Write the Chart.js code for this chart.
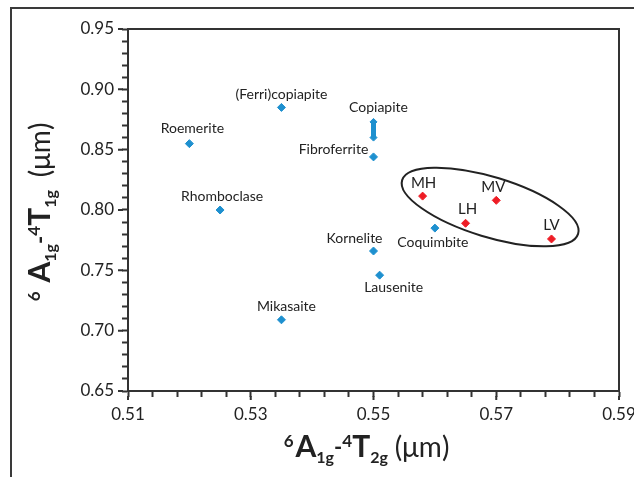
<!DOCTYPE html>
<html>
<head>
<meta charset="utf-8">
<script src="https://cdn.jsdelivr.net/npm/chart.js@4"></script>
<style>
  body { margin: 0; background: #fff; }
  #wrap { position: relative; width: 634px; height: 477px; overflow: hidden; }
  #frame { position: absolute; left: 10px; top: 7px; width: 700px; height: 600px;
           border-left: 2px solid #3a3a3a; border-top: 2px solid #3a3a3a; pointer-events: none; }
</style>
</head>
<body>
<div id="wrap">
  <canvas id="chart" width="634" height="477"></canvas>
  <div id="frame"></div>
</div>
<script>
// Reference minerals (blue diamonds)
const mineralNames = ['Roemerite', '(Ferri)copiapite', 'Rhomboclase', 'Fibroferrite', 'Kornelite', 'Lausenite', 'Coquimbite', 'Mikasaite'];
const mineralT2g = [0.520, 0.535, 0.525, 0.550, 0.550, 0.551, 0.560, 0.535];
const mineralT1g = [0.855, 0.885, 0.800, 0.844, 0.766, 0.746, 0.785, 0.709];

// Copiapite is drawn as a range
const copiapiteName = 'Copiapite';
const copiapiteT2g = 0.550;
const copiapiteT1g = [0.860, 0.873];

// Samples (red diamonds)
const sampleNames = ['MH', 'MV', 'LH', 'LV'];
const sampleT2g = [0.558, 0.570, 0.565, 0.579];
const sampleT1g = [0.8115, 0.808, 0.789, 0.776];

// axis ranges / labelled ticks
const xMin = 0.51, xMax = 0.59, xStep = 0.004, xLabelEvery = 0.02;
const yMin = 0.65, yMax = 0.95, yStep = 0.01, yLabelEvery = 0.05;

// label placement (pixel shift of the text centre from its point)
const labelShift = {
  'Roemerite': [3, -15], '(Ferri)copiapite': [0, -13], 'Rhomboclase': [2, -14],
  'Fibroferrite': [-40, -7], 'Kornelite': [-19, -13], 'Lausenite': [14, 12],
  'Coquimbite': [-2, 14], 'Mikasaite': [5, -13], 'Copiapite': [5, -14],
  'MH': [1, -13], 'MV': [-3, -13], 'LH': [2, -14], 'LV': [0, -14]
};

const blue = '#1e90cf';
const red = '#ee1c25';
const ink = '#222';
const axisColor = '#333';

function isLabelled(v, start, every) {
  const k = (v - start) / every;
  return Math.abs(k - Math.round(k)) < 1e-6;
}

// names next to the points
const pointLabels = {
  id: 'pointLabels',
  afterDatasetsDraw(chart) {
    const ctx = chart.ctx;
    ctx.save();
    ctx.fillStyle = ink;
    ctx.textAlign = 'center';
    ctx.textBaseline = 'middle';
    chart.data.datasets.forEach((ds, di) => {
      const meta = chart.getDatasetMeta(di);
      ds.names.forEach((name, i) => {
        if (!name) return;
        const p = meta.data[i];
        const s = labelShift[name] || [0, -14];
        ctx.font = ds.labelFont;
        ctx.fillText(name, p.x + s[0], p.y + s[1]);
      });
    });
    ctx.restore();
  }
};

// ellipse round the samples
const sampleEllipse = {
  id: 'sampleEllipse',
  afterDatasetsDraw(chart) {
    const ctx = chart.ctx;
    const cx = chart.scales.x.getPixelForValue(0.569);
    const cy = chart.scales.y.getPixelForValue(0.8025);
    ctx.save();
    ctx.strokeStyle = '#222';
    ctx.lineWidth = 2;
    ctx.beginPath();
    ctx.ellipse(cx, cy, 92, 30, 17 * Math.PI / 180, 0, 2 * Math.PI);
    ctx.stroke();
    ctx.restore();
  }
};

// top/right border and the longer labelled ticks
const boxAndTicks = {
  id: 'boxAndTicks',
  afterDraw(chart) {
    const ctx = chart.ctx;
    const a = chart.chartArea;
    ctx.save();
    ctx.strokeStyle = axisColor;
    ctx.lineWidth = 2;
    ctx.strokeRect(a.left, a.top, a.right - a.left, a.bottom - a.top);
    const xs = chart.scales.x, ys = chart.scales.y;
    ctx.beginPath();
    xs.ticks.forEach((t, i) => {
      if (!isLabelled(t.value, xMin, xLabelEvery)) return;
      const px = xs.getPixelForTick(i);
      ctx.moveTo(px, a.bottom + 5);
      ctx.lineTo(px, a.bottom + 9);
    });
    ys.ticks.forEach((t, i) => {
      if (!isLabelled(t.value, yMin, yLabelEvery)) return;
      const py = ys.getPixelForTick(i);
      ctx.moveTo(a.left - 5, py);
      ctx.lineTo(a.left - 10, py);
    });
    ctx.stroke();
    ctx.restore();
  }
};

// axis titles with super/subscripts
function drawRuns(ctx, runs) {
  let w = 0;
  runs.forEach(r => { ctx.font = r.font; w += (r.gap || 0) + ctx.measureText(r.text).width; });
  let x = -w / 2;
  runs.forEach(r => {
    ctx.font = r.font;
    x += r.gap || 0;
    ctx.fillText(r.text, x, r.dy || 0);
    x += ctx.measureText(r.text).width;
  });
}
const big = 'bold 30px Lato', sup = 'bold 17px Lato', sub = 'bold 16px Lato', unit = '28px Lato';
const xTitleRuns = [
  { text: '6', font: sup, dy: -10 }, { text: 'A', font: big, gap: 2 }, { text: '1g', font: sub, dy: 6 },
  { text: '-', font: 'bold 22px Lato', dy: -2 }, { text: '4', font: sup, dy: -10 }, { text: 'T', font: big },
  { text: '2g', font: sub, dy: 6 }, { text: '(\u03bcm)', font: unit, gap: 7 }
];
const yTitleRuns = [
  { text: '6', font: sup, dy: -10 }, { text: 'A', font: big, gap: 9 }, { text: '1g', font: sub, dy: 6 },
  { text: '-', font: 'bold 22px Lato', dy: -2 }, { text: '4', font: sup, dy: -10 }, { text: 'T', font: big },
  { text: '1g', font: sub, dy: 6 }, { text: '(\u03bcm)', font: unit, gap: 13 }
];
const axisTitles = {
  id: 'axisTitles',
  afterDraw(chart) {
    const ctx = chart.ctx;
    const a = chart.chartArea;
    ctx.save();
    ctx.fillStyle = ink;
    ctx.textAlign = 'left';
    ctx.textBaseline = 'alphabetic';
    ctx.save();
    ctx.translate((a.left + a.right) / 2 - 7, 457);
    drawRuns(ctx, xTitleRuns);
    ctx.restore();
    ctx.save();
    ctx.translate(50, (a.top + a.bottom) / 2 + 2);
    ctx.rotate(-Math.PI / 2);
    drawRuns(ctx, yTitleRuns);
    ctx.restore();
    ctx.restore();
  }
};

const tickFont = { family: 'Lato', size: 17 };

new Chart(document.getElementById('chart').getContext('2d'), {
  type: 'scatter',
  data: {
    datasets: [
      {
        label: 'Minerals',
        names: mineralNames,
        labelFont: '14px Lato',
        data: mineralT2g.map((x, i) => ({ x: x, y: mineralT1g[i] })),
        pointStyle: 'rectRot', pointRadius: 4, pointBorderWidth: 1,
        backgroundColor: blue, borderColor: blue
      },
      {
        label: copiapiteName,
        names: ['', copiapiteName],
        labelFont: '14px Lato',
        data: copiapiteT1g.map(y => ({ x: copiapiteT2g, y: y })),
        showLine: true, borderWidth: 5,
        pointStyle: 'rectRot', pointRadius: 3.5, pointBorderWidth: 1,
        backgroundColor: blue, borderColor: blue
      },
      {
        label: 'Samples',
        names: sampleNames,
        labelFont: '15px Lato',
        data: sampleT2g.map((x, i) => ({ x: x, y: sampleT1g[i] })),
        pointStyle: 'rectRot', pointRadius: 4, pointBorderWidth: 1,
        backgroundColor: red, borderColor: red
      }
    ]
  },
  options: {
    responsive: false,
    animation: false,
    layout: { padding: { left: 0, top: 29, right: 15, bottom: 0 } },
    plugins: { legend: { display: false }, tooltip: { enabled: false } },
    scales: {
      x: {
        type: 'linear', min: xMin, max: xMax,
        ticks: {
          stepSize: xStep, autoSkip: false, maxRotation: 0, padding: 7,
          color: ink, font: tickFont,
          callback: v => isLabelled(v, xMin, xLabelEvery) ? v.toFixed(2) : ''
        },
        grid: { drawOnChartArea: false, tickLength: 6, tickWidth: 2, tickColor: axisColor },
        border: { color: axisColor, width: 2 },
        afterFit(s) { s.height = 86; s.paddingLeft = 0; s.paddingRight = 0; }
      },
      y: {
        type: 'linear', min: yMin, max: yMax,
        ticks: {
          stepSize: yStep, autoSkip: false, padding: 8,
          color: ink, font: tickFont,
          callback: v => isLabelled(v, yMin, yLabelEvery) ? v.toFixed(2) : ''
        },
        grid: { drawOnChartArea: false, tickLength: 6, tickWidth: 2, tickColor: axisColor },
        border: { color: axisColor, width: 2 },
        afterFit(s) { s.width = 128; s.paddingTop = 0; s.paddingBottom = 0; }
      }
    }
  },
  plugins: [sampleEllipse, pointLabels, boxAndTicks, axisTitles]
});
</script>
</body>
</html>
